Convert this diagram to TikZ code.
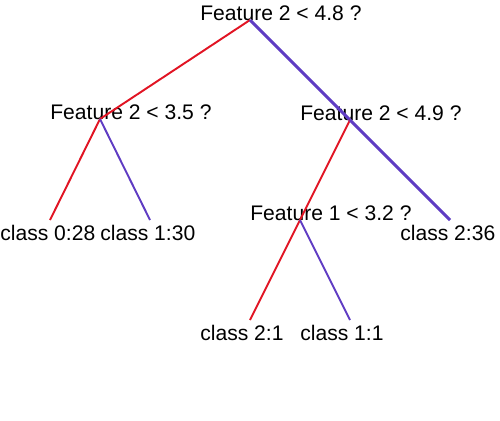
\documentclass[tikz,border=0pt]{standalone}
\usepackage{fontspec}
\setmainfont{Liberation Sans}
\usepackage{tikz}

\definecolor{yesred}{RGB}{225,20,35}
\definecolor{nopurple}{RGB}{95,60,195}

\begin{document}
\begin{tikzpicture}[x=1cm,y=1cm,
    font=\fontsize{12}{14}\selectfont,
    split/.style={anchor=base west, inner sep=0pt, xshift=-1cm},
    leaf/.style={anchor=north west, inner sep=0pt, xshift=-1cm, yshift=-0.1cm},
    yes/.style={draw=yesred, line width=1.1pt},
    no/.style={draw=nopurple, line width=1.1pt},
    nomain/.style={draw=nopurple, line width=1.7pt}]

    \useasboundingbox (0, 0) rectangle (10, -8.4);

    \coordinate (r) at (5, -0.4);
    \coordinate (a) at (2, -2.38);
    \coordinate (b) at (7, -2.4);
    \coordinate (c) at (1, -4.4);
    \coordinate (d) at (3, -4.4);
    \coordinate (e) at (6, -4.4);
    \coordinate (f) at (9, -4.4);
    \coordinate (g) at (5, -6.4);
    \coordinate (h) at (7, -6.4);

    \node [split] (rt) at (r) {Feature 2 < 4.8 ?};
    \node [split] (at) at (a) {Feature 2 < 3.5 ?};
    \node [split] (bt) at (b) {Feature 2 < 4.9 ?};
    \node [leaf] (ct) at (c) {class 0:28};
    \node [leaf] (dt) at (d) {class 1:30};
    \node [split] (et) at (e) {Feature 1 < 3.2 ?};
    \node [leaf] (ft) at (f) {class 2:36};
    \node [leaf] (gt) at (g) {class 2:1};
    \node [leaf] (ht) at (h) {class 1:1};

    \draw [yes] (r) to (a);
    \draw [nomain] (r) to (b);
    \draw [yes] (a) to (c);
    \draw [no] (a) to (d);
    \draw [yes] (b) to (e);
    \draw [nomain] (b) to (f);
    \draw [yes] (e) to (g);
    \draw [no] (e) to (h);

\end{tikzpicture}
\end{document}
